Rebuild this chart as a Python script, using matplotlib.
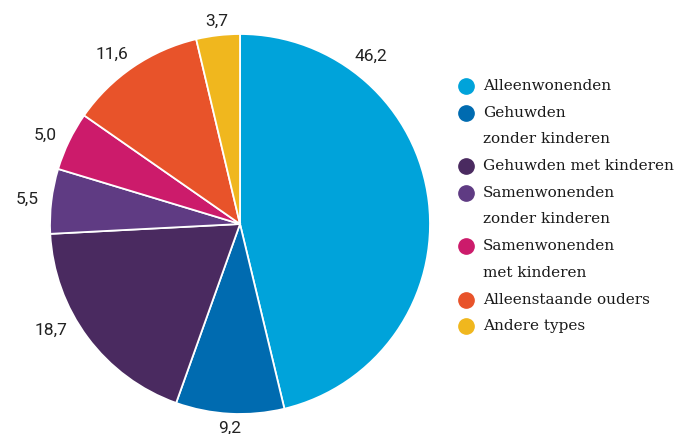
import numpy as np
import matplotlib
matplotlib.use("Agg")
import matplotlib.pyplot as plt
from matplotlib.lines import Line2D

categories = ["Alleenwonenden", "Gehuwden\nzonder kinderen", "Gehuwden met kinderen",
              "Samenwonenden\nzonder kinderen", "Samenwonenden\nmet kinderen",
              "Alleenstaande ouders", "Andere types"]
values = [46.2, 9.2, 18.7, 5.5, 5.0, 11.6, 3.7]
value_labels = ["46,2", "9,2", "18,7", "5,5", "5,0", "11,6", "3,7"]
colors = ["#00A3DA", "#006BB0", "#4A2A60", "#5F3B83", "#CC1B6B", "#E8532A", "#F0B71E"]

W, H = 678, 434
fig = plt.figure(figsize=(W / 100, H / 100), dpi=100)
cx, cy, r = 240, 224, 190
ax = fig.add_axes([(cx - r) / W, (H - cy - r) / H, 2 * r / W, 2 * r / H])
wedges, _ = ax.pie(values, colors=colors, startangle=90, counterclock=False, radius=1,
                   wedgeprops=dict(edgecolor="white", linewidth=1.3))
ax.set_xlim(-1, 1)
ax.set_ylim(-1, 1)
ax.set_aspect("equal")
ax.axis("off")

# label angle adjustments (degrees) to mimic the original label placement
angle_shift = {0: 49, 2: -5, 5: -1}
label_font = dict(family=["Roboto", "DejaVu Sans"], fontsize=12.5, color="#222222")
for i, w in enumerate(wedges):
    ang = (w.theta1 + w.theta2) / 2 + angle_shift.get(i, 0)
    a = np.deg2rad(ang)
    d = 1.07
    x, y = d * np.cos(a), d * np.sin(a)
    if abs(np.cos(a)) < 0.2:
        ha = "center"
        y = 1.075 * np.sin(a)
    elif x > 0:
        ha = "left"
    else:
        ha = "right"
    ax.text(x, y, value_labels[i], ha=ha, va="center", clip_on=False, **label_font)

# legend
y0 = 86
step = 26.7
xm, xt = 466, 483
line = 0
for cat, col in zip(categories, colors):
    fy = 1 - (y0 + line * step) / H
    fig.add_artist(Line2D([xm / W], [fy], marker="o", markersize=11,
                          color=col, linestyle="none", transform=fig.transFigure))
    for p in cat.split("\n"):
        fy = 1 - (y0 + line * step) / H
        fig.text(xt / W, fy, p, ha="left", va="center", family=["DejaVu Serif"],
                 fontsize=11, color="#1a1a1a")
        line += 1

fig.savefig("out.png", dpi=100, facecolor="white")
